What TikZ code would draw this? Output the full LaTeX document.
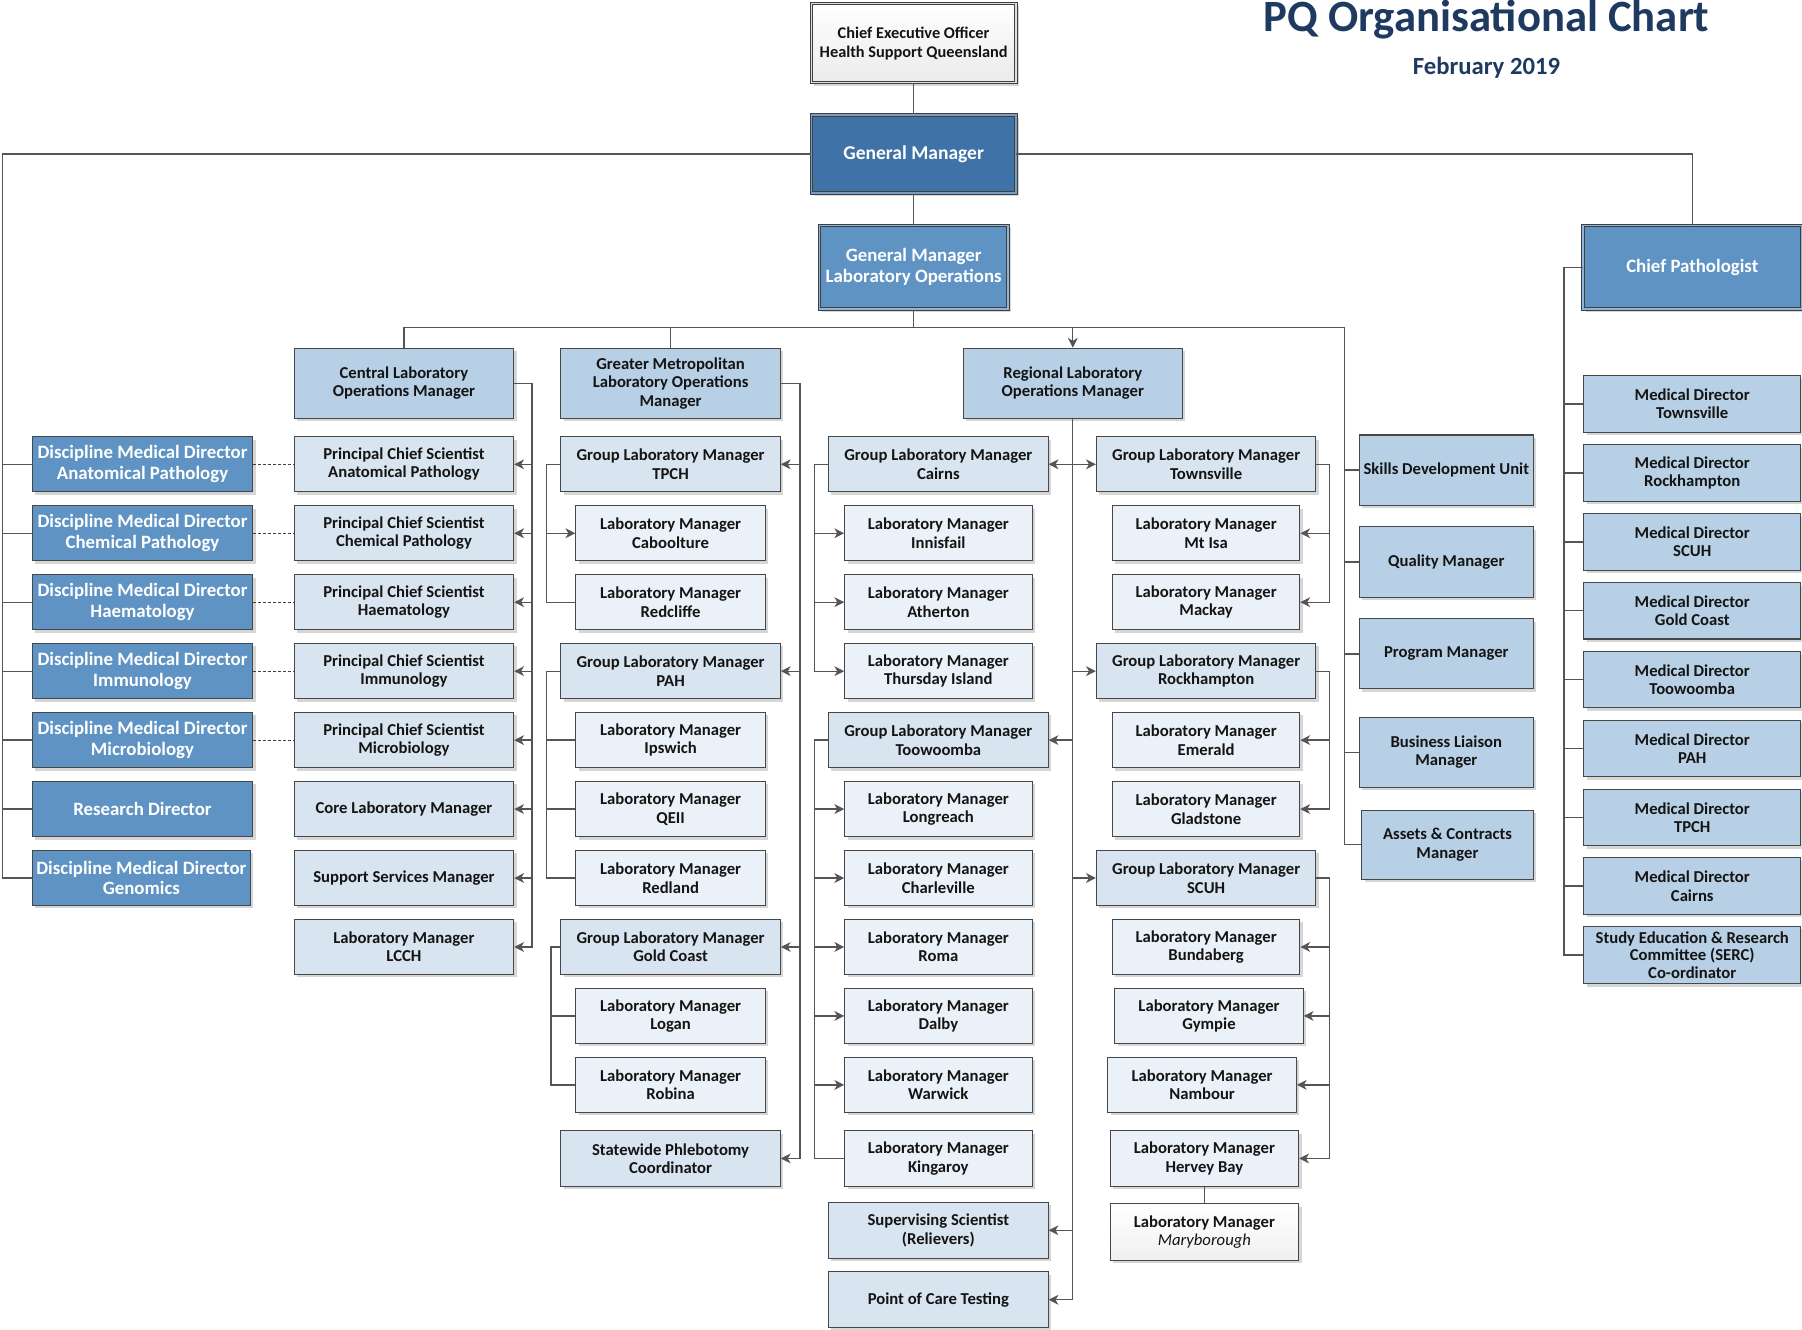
\documentclass[tikz,border=0pt]{standalone}
\usepackage{fontspec}
\setmainfont{Carlito}
\usetikzlibrary{arrows.meta,shadows}
\definecolor{cDark}{HTML}{3F72A6}
\definecolor{cMid}{HTML}{5E93C4}
\definecolor{cL1}{HTML}{B8D0E5}
\definecolor{cL2}{HTML}{D8E4EF}
\definecolor{cL3}{HTML}{EBF1F8}
\definecolor{cLine}{HTML}{555555}
\definecolor{cBorder}{HTML}{474747}
\definecolor{cTitle}{HTML}{1F3A60}
\tikzset{
  box/.style={rectangle, draw=cBorder, line width=0.9pt, inner sep=1pt, align=center,
     font=\bfseries\fontsize{14.5}{16}\selectfont, text=black!92,
     drop shadow={shadow xshift=2.5pt, shadow yshift=-2.5pt, fill=black!16, opacity=1}},
  L1/.style={box, fill=cL1},
  L2/.style={box, fill=cL2},
  L3/.style={box, fill=cL3},
  blu/.style={box, fill=cMid, text=white, font=\bfseries\fontsize{16.4}{18}\selectfont},
  dbl/.style={double=#1, double distance=1.3pt, line width=0.8pt, draw=black!75},
  conn/.style={draw=cLine, line width=1.1pt},
  arr/.style={conn, -{Stealth[length=8.5pt,width=8.5pt,inset=2.5pt]}},
  dsh/.style={draw=black!75, line width=1pt, dash pattern=on 2.5pt off 1.8pt},
  wG/.style={minimum width=191pt, minimum height=48pt},
  wM/.style={minimum width=165pt, minimum height=48pt},
  wR/.style={minimum width=163pt, minimum height=48pt},
  wD/.style={minimum width=192pt, minimum height=48pt},
  wS/.style={minimum width=151pt, minimum height=61pt},
  wMD/.style={minimum width=189pt, minimum height=49pt},
  wH/.style={minimum width=191pt, minimum height=61pt},
}
\begin{document}
\begin{tikzpicture}[x=1pt,y=-1pt]
\useasboundingbox[fill=white] (0,0) rectangle (1568,1157);

% title
\node[anchor=base, font=\bfseries\fontsize{38.9}{42}\selectfont, text=cTitle, inner sep=0] (title) at (1293.5,27) {PQ Organisational Chart};
\node[anchor=base, font=\bfseries\fontsize{21.5}{24}\selectfont, text=cTitle, inner sep=0] (date) at (1293.5,65) {February 2019};

% top
\node[box, dbl=black!12, top color=white, bottom color=black!8, font=\bfseries\fontsize{14.2}{16.5}\selectfont, minimum width=178pt, minimum height=69pt] (ceo) at (795,37.5) {Chief Executive Officer\\Health Support Queensland};
\node[blu, fill=cDark, dbl=cDark!70, font=\bfseries\fontsize{17}{19}\selectfont, minimum width=178pt, minimum height=68pt] (gm) at (795,134) {General Manager};
\node[blu, dbl=cMid!70, minimum width=164pt, minimum height=73pt] (gmlo) at (795,232.5) {General Manager\\Laboratory Operations};
\node[blu, dbl=cMid!70, minimum width=190pt, minimum height=73pt] (cp) at (1472.5,232.5) {Chief Pathologist};

% left DMD column
\node[blu, wD] (dmdA) at (124,404) {Discipline Medical Director\\Anatomical Pathology};
\node[blu, wD] (dmdC) at (124,464) {Discipline Medical Director\\Chemical Pathology};
\node[blu, wD] (dmdH) at (124,524) {Discipline Medical Director\\Haematology};
\node[blu, wD] (dmdI) at (124,584) {Discipline Medical Director\\Immunology};
\node[blu, wD] (dmdM) at (124,644) {Discipline Medical Director\\Microbiology};
\node[blu, wD] (res) at (124,704) {Research Director};
\node[blu, wD, minimum width=190pt] (gen) at (123,764) {Discipline Medical Director\\Genomics};

% central lab column
\node[L1, wH] (cl) at (351.5,333.5) {Central Laboratory\\Operations Manager};
\node[L2, wG] (pcsA) at (351.5,404) {Principal Chief Scientist\\Anatomical Pathology};
\node[L2, wG] (pcsC) at (351.5,464) {Principal Chief Scientist\\Chemical Pathology};
\node[L2, wG] (pcsH) at (351.5,524) {Principal Chief Scientist\\Haematology};
\node[L2, wG] (pcsI) at (351.5,584) {Principal Chief Scientist\\Immunology};
\node[L2, wG] (pcsM) at (351.5,644) {Principal Chief Scientist\\Microbiology};
\node[L2, wG] (core) at (351.5,704) {Core Laboratory Manager};
\node[L2, wG] (supp) at (351.5,764) {Support Services Manager};
\node[L2, wG] (lcch) at (351.5,824) {Laboratory Manager\\LCCH};

% greater metro column
\node[L1, wH] (gmlom) at (583.5,333.5) {Greater Metropolitan\\Laboratory Operations\\Manager};
\node[L2, wG] (tpch) at (583.5,404) {Group Laboratory Manager\\TPCH};
\node[L3, wM] (cab) at (583.5,464) {Laboratory Manager\\Caboolture};
\node[L3, wM] (red) at (583.5,524) {Laboratory Manager\\Redcliffe};
\node[L2, wG] (pah) at (583.5,584) {Group Laboratory Manager\\PAH};
\node[L3, wM] (ips) at (583.5,644) {Laboratory Manager\\Ipswich};
\node[L3, wM] (qe) at (583.5,704) {Laboratory Manager\\QEII};
\node[L3, wM] (rdl) at (583.5,764) {Laboratory Manager\\Redland};
\node[L2, wG] (gc) at (583.5,824) {Group Laboratory Manager\\Gold Coast};
\node[L3, wM] (log) at (583.5,884) {Laboratory Manager\\Logan};
\node[L3, wM] (rob) at (583.5,944) {Laboratory Manager\\Robina};
\node[L2, wG] (swp) at (583.5,1008) {Statewide Phlebotomy\\Coordinator};

% regional column
\node[L1, wH] (rlom) at (933.5,333.5) {Regional Laboratory\\Operations Manager};
\node[L2, wG] (cai) at (816.5,404) {Group Laboratory Manager\\Cairns};
\node[L3, wR] (inn) at (816.5,464) {Laboratory Manager\\Innisfail};
\node[L3, wR] (ath) at (816.5,524) {Laboratory Manager\\Atherton};
\node[L3, wR] (thu) at (816.5,584) {Laboratory Manager\\Thursday Island};
\node[L2, wG] (too) at (816.5,644) {Group Laboratory Manager\\Toowoomba};
\node[L3, wR] (lon) at (816.5,704) {Laboratory Manager\\Longreach};
\node[L3, wR] (cha) at (816.5,764) {Laboratory Manager\\Charleville};
\node[L3, wR] (rom) at (816.5,824) {Laboratory Manager\\Roma};
\node[L3, wR] (dal) at (816.5,884) {Laboratory Manager\\Dalby};
\node[L3, wR] (war) at (816.5,944) {Laboratory Manager\\Warwick};
\node[L3, wR] (kin) at (816.5,1008) {Laboratory Manager\\Kingaroy};
\node[L2, wG, minimum height=49pt] (sup) at (816.5,1070.5) {Supervising Scientist\\(Relievers)};
\node[L2, wG, minimum height=49pt] (poc) at (816.5,1131) {Point of Care Testing};

\node[L2, wG] (tsv) at (1049.5,404) {Group Laboratory Manager\\Townsville};
\node[L3, wR] (mti) at (1049.5,464) {Laboratory Manager\\Mt Isa};
\node[L3, wR] (mac) at (1049.5,524) {Laboratory Manager\\Mackay};
\node[L2, wG] (rok) at (1049.5,584) {Group Laboratory Manager\\Rockhampton};
\node[L3, wR] (eme) at (1049.5,644) {Laboratory Manager\\Emerald};
\node[L3, wR] (gla) at (1049.5,704) {Laboratory Manager\\Gladstone};
\node[L2, wG] (scu) at (1049.5,764) {Group Laboratory Manager\\SCUH};
\node[L3, wR] (bun) at (1049.5,824) {Laboratory Manager\\Bundaberg};
\node[L3, wR, minimum width=164pt] (gym) at (1052,884) {Laboratory Manager\\Gympie};
\node[L3, wR, minimum width=164pt] (nam) at (1046,944) {Laboratory Manager\\Nambour};
\node[L3, wR, minimum width=164pt] (hb) at (1048,1008) {Laboratory Manager\\Hervey Bay};
\node[box, top color=white, bottom color=black!6, minimum width=164pt, minimum height=49pt] (mar) at (1048,1072) {Laboratory Manager\\{\mdseries\itshape Maryborough}};

% services
\node[L1, wS] (sdu) at (1258.5,409) {Skills Development Unit};
\node[L1, wS] (qm) at (1258.5,489) {Quality Manager};
\node[L1, wS] (pm) at (1258.5,569) {Program Manager};
\node[L1, wS] (blm) at (1258.5,654.5) {Business Liaison\\Manager};
\node[L1, wS, minimum width=149pt, minimum height=60pt] (acm) at (1259.5,735) {Assets \& Contracts\\Manager};

% medical directors
\node[L1, wMD] (md1) at (1472.5,351.5) {Medical Director\\Townsville};
\node[L1, wMD] (md2) at (1472.5,411.5) {Medical Director\\Rockhampton};
\node[L1, wMD] (md3) at (1472.5,471.5) {Medical Director\\SCUH};
\node[L1, wMD] (md4) at (1472.5,531.5) {Medical Director\\Gold Coast};
\node[L1, wMD] (md5) at (1472.5,591.5) {Medical Director\\Toowoomba};
\node[L1, wMD] (md6) at (1472.5,651.5) {Medical Director\\PAH};
\node[L1, wMD] (md7) at (1472.5,711.5) {Medical Director\\TPCH};
\node[L1, wMD] (md8) at (1472.5,771) {Medical Director\\Cairns};
\node[L1, wMD, minimum height=50pt, font=\bfseries\fontsize{14.5}{15}\selectfont] (md9) at (1472.5,831) {Study Education \& Research\\Committee (SERC)\\Co-ordinator};

% bus coordinates
\coordinate (lb) at (2,133);
\coordinate (hz) at (0,285);
\coordinate (sb) at (1170,285);
\coordinate (cb) at (463,0);
\coordinate (gb) at (696,0);
\coordinate (tb) at (475.5,0);
\coordinate (gcb) at (479.5,0);
\coordinate (rlb) at (709,0);
\coordinate (rrb) at (1157,0);
\coordinate (mb) at (1361,0);

% connectors top
\draw[conn] (ceo.south) -- (gm.north);
\foreach \n in {dmdA,dmdC,dmdH,dmdI,dmdM,res,gen}
  \draw[conn] (gm.west) -- (gm.west -| lb) |- (\n.west);
\draw[conn] (gm.east) -| (cp.north);
\draw[conn] (gm.south) -- (gmlo.north);
\draw[conn] (gmlo.south) -- (gmlo.south |- hz) -| (cl.north);
\draw[conn] (gmlo.south |- hz) -| (gmlom.north);
\draw[arr] (gmlo.south |- hz) -| (rlom.north);
\foreach \n in {sdu,qm,pm,blm,acm}
  \draw[conn] (gmlo.south |- hz) -| (sb) |- (\n.west);

% dashed links
\draw[dsh] (dmdA.east) -- (pcsA.west);
\draw[dsh] (dmdC.east) -- (pcsC.west);
\draw[dsh] (dmdH.east) -- (pcsH.west);
\draw[dsh] (dmdI.east) -- (pcsI.west);
\draw[dsh] (dmdM.east) -- (pcsM.west);

% central lab
\foreach \n in {pcsA,pcsC,pcsH,pcsI,pcsM,core,supp,lcch}
  \draw[arr] (cl.east) -- (cl.east -| cb) |- (\n.east);

% greater metro
\foreach \n in {tpch,pah,gc,swp}
  \draw[arr] (gmlom.east) -- (gmlom.east -| gb) |- (\n.east);
\draw[arr] (tpch.west) -- (tpch.west -| tb) |- (cab.west);
\draw[conn] (tpch.west) -- (tpch.west -| tb) |- (red.west);
\foreach \n in {ips,qe,rdl}
  \draw[conn] (pah.west) -- (pah.west -| tb) |- (\n.west);
\foreach \n in {log,rob}
  \draw[conn] (gc.west) -- (gc.west -| gcb) |- (\n.west);

% regional
\foreach \n in {cai,too,sup,poc}
  \draw[arr] (rlom.south) |- (\n.east);
\foreach \n in {tsv,rok,scu}
  \draw[arr] (rlom.south) |- (\n.west);
\foreach \n in {inn,ath,thu}
  \draw[arr] (cai.west) -- (cai.west -| rlb) |- (\n.west);
\foreach \n in {lon,cha,rom,dal,war}
  \draw[arr] (too.west) -- (too.west -| rlb) |- (\n.west);
\draw[conn] (too.west) -- (too.west -| rlb) |- (kin.west);
\foreach \n in {mti,mac}
  \draw[arr] (tsv.east) -- (tsv.east -| rrb) |- (\n.east);
\foreach \n in {eme,gla}
  \draw[arr] (rok.east) -- (rok.east -| rrb) |- (\n.east);
\foreach \n in {bun,gym,nam,hb}
  \draw[arr] (scu.east) -- (scu.east -| rrb) |- (\n.east);
\draw[conn] (hb.south) -- (mar.north);

% chief pathologist
\foreach \n in {md1,md2,md3,md4,md5,md6,md7,md8,md9}
  \draw[conn] (cp.west) -- (cp.west -| mb) |- (\n.west);
\end{tikzpicture}
\end{document}
